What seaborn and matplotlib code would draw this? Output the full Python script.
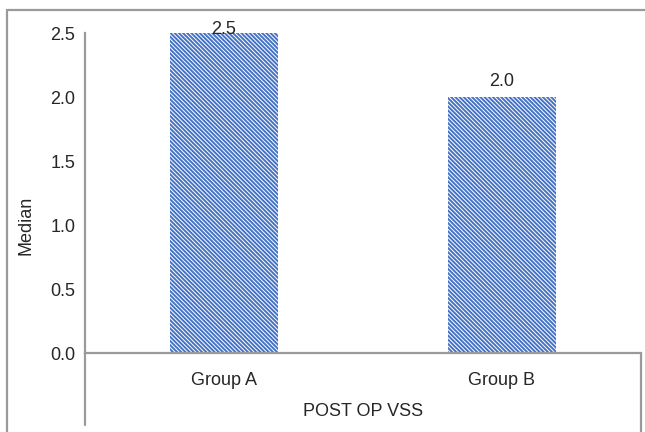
import matplotlib
matplotlib.use("Agg")
import matplotlib.pyplot as plt
from matplotlib.lines import Line2D
import seaborn as sns
import pandas as pd

groups = ["Group A", "Group B"]
medians = [2.5, 2.0]
y_ticks = [0.0, 0.5, 1.0, 1.5, 2.0, 2.5]
x_title = "POST OP VSS"
y_title = "Median"

sns.set_theme(style="white")
plt.rcParams["font.family"] = ["Liberation Sans", "DejaVu Sans"]
plt.rcParams["hatch.linewidth"] = 1.4

W, H = 645, 432
fig = plt.figure(figsize=(W / 100, H / 100), dpi=100)
ax = fig.add_axes([85 / W, 1 - 353 / H, (641 - 85) / W, (353 - 33) / H])

df = pd.DataFrame({"group": groups, "median": medians})
blue = "#4472C4"
grey = "#9a9a9a"
txt = "#262626"
hatch_pat = chr(92) * 8
sns.barplot(data=df, x="group", y="median", ax=ax, color="white",
            edgecolor=blue, linewidth=0, width=0.39, hatch=hatch_pat,
            saturation=1)

ax.set_ylim(0, 2.5)
ax.set_xlim(-0.5, 1.5)
ax.set_yticks(y_ticks)
ax.set_yticklabels([f"{t:.1f}" for t in y_ticks])
ax.tick_params(axis="both", length=0, labelsize=13, colors=txt)
ax.tick_params(axis="y", pad=7)
ax.tick_params(axis="x", pad=14)

for s in ["top", "right"]:
    ax.spines[s].set_visible(False)
for s in ["left", "bottom"]:
    ax.spines[s].set_color(grey)
    ax.spines[s].set_linewidth(1.6)

ax.set_xlabel(x_title, fontsize=13, color=txt, va="center")
ax.xaxis.set_label_coords(0.5, -(412 - 353) / 320)
ax.set_ylabel(y_title, fontsize=13, color=txt, va="center")
ax.yaxis.set_label_coords((26 - 85) / 556, (353 - 225) / 320)

ymax = ax.get_ylim()[1]
for i, v in enumerate(medians):
    ly = min(v + 0.125, ymax + 0.03)
    ax.text(i, ly, f"{v:.1f}", ha="center", va="center", fontsize=13,
            color=txt, clip_on=False)

def fline(x0, y0, x1, y1):
    fig.add_artist(Line2D([x0 / W, x1 / W], [1 - y0 / H, 1 - y1 / H],
                          transform=fig.transFigure, color=grey, lw=1.6))

fline(7, 10, W, 10)
fline(7, 10, 7, H)
fline(85, 353, 85, 425)
fline(641, 353, 641, H)

fig.savefig("out.png", dpi=100)
